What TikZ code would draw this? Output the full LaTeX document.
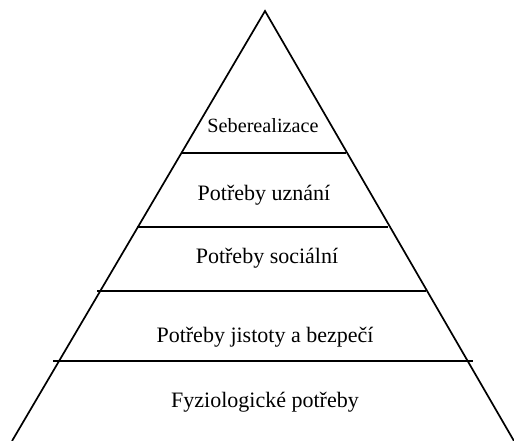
\documentclass[tikz,border=0pt]{standalone}
\usepackage{fontspec}
\setmainfont{Liberation Serif}
\begin{document}
\begin{tikzpicture}[x=1pt, y=-1pt,
	edge/.style={line width=1.7pt, line join=miter},
	level/.style={line width=1.3pt},
	label/.style={font=\fontsize{22}{24}\selectfont, inner sep=0pt, anchor=base}]
	\useasboundingbox (0,0) rectangle (514,441);
	\coordinate (apex) at (265,11);
	\coordinate (bl) at (12,441);
	\coordinate (br) at (514,441);
	\draw[edge] (bl) -- (apex) -- (br);
	% levels
	\coordinate (l1a) at (182,153); \coordinate (l1b) at (346,153);
	\coordinate (l2a) at (137,227); \coordinate (l2b) at (388,227);
	\coordinate (l3a) at (97,291);  \coordinate (l3b) at (426,291);
	\coordinate (l4a) at (53,361);  \coordinate (l4b) at (473,361);
	\draw[level] (l1a) -- (l1b);
	\draw[level] (l2a) -- (l2b);
	\draw[level] (l3a) -- (l3b);
	\draw[level] (l4a) -- (l4b);
	% texts
	\node[label, font=\fontsize{20.2}{22}\selectfont] (self) at (263,132) {Seberealizace};
	\node[label] (esteem) at (264,200) {Potřeby uznání};
	\node[label] (social) at (267,263) {Potřeby sociální};
	\node[label] (safety) at (265,342) {Potřeby jistoty a bezpečí};
	\node[label] (physio) at (265,407) {Fyziologické potřeby};
\end{tikzpicture}
\end{document}
